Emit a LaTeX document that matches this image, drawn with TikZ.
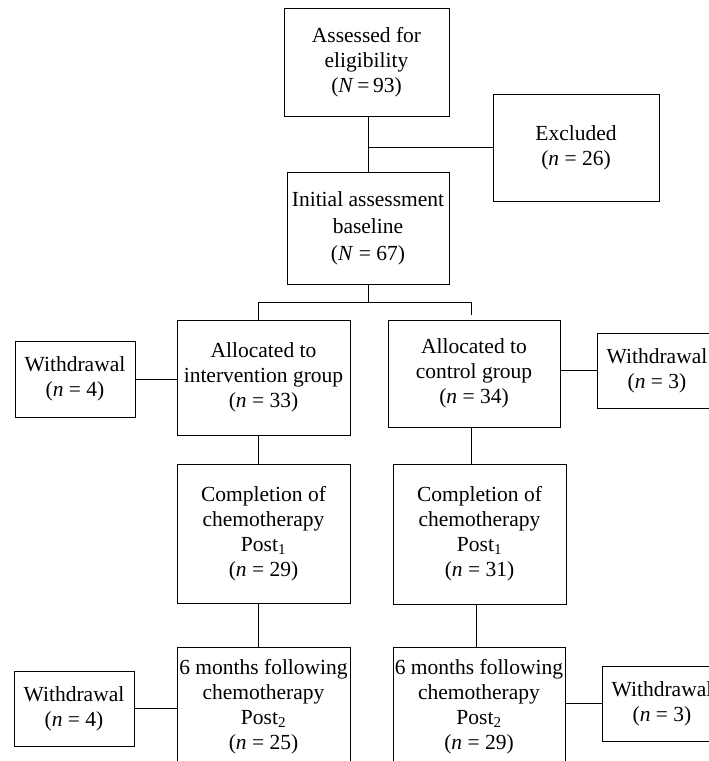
\documentclass[tikz,border=0pt]{standalone}
\usepackage{fontspec}
\setmainfont{Liberation Serif}
\begin{document}
\begin{tikzpicture}[x=1pt,y=-1pt,
  box/.style={draw,line width=0.9pt,inner sep=0pt,align=center,
    font=\fontsize{21.5}{25}\selectfont},
  conn/.style={line width=0.9pt}]
\useasboundingbox (0,0) rectangle (709,761);
\clip (0,0) rectangle (709,761);
\node[box,minimum width=165pt,minimum height=108pt] (A) at (366.5,62) {Assessed for\\eligibility\\(\textit{N}\,=\,93)};
\node[box,minimum width=166pt,minimum height=107pt] (E) at (576,147.5) {Excluded\\(\textit{n}~=~26)};
\node[box,minimum width=162pt,minimum height=112pt,font=\fontsize{21.5}{27}\selectfont] (I) at (368,228) {Initial assessment\\baseline\\(\textit{N}~=~67)};
\node[box,minimum width=173pt,minimum height=115pt] (G1) at (263.5,377.5) {Allocated to\\intervention group\\(\textit{n}~=~33)};
\node[box,minimum width=172pt,minimum height=107pt] (G2) at (474,373.5) {Allocated to\\control group\\(\textit{n}~=~34)};
\node[box,minimum width=120pt,minimum height=76pt] (WL1) at (75,379) {Withdrawal\\(\textit{n}~=~4)};
\node[box,minimum width=120pt,minimum height=75pt] (WR1) at (657,370.5) {Withdrawal\\(\textit{n}~=~3)};
\node[box,minimum width=173pt,minimum height=139pt] (C1) at (263.5,533.5) {Completion of\\chemotherapy\\Post\textsubscript{1}\\(\textit{n}~=~29)};
\node[box,minimum width=173pt,minimum height=140pt] (C2) at (479.5,534) {Completion of\\chemotherapy\\Post\textsubscript{1}\\(\textit{n}~=~31)};
\node[box,minimum width=173pt,minimum height=120pt] (P1) at (263.5,707) {6 months following\\chemotherapy\\Post\textsubscript{2}\\(\textit{n}~=~25)};
\node[box,minimum width=172pt,minimum height=120pt] (P2) at (479,707) {6 months following\\chemotherapy\\Post\textsubscript{2}\\(\textit{n}~=~29)};
\node[box,minimum width=120pt,minimum height=75pt] (WL2) at (74,708.5) {Withdrawal\\(\textit{n}~=~4)};
\node[box,minimum width=120pt,minimum height=75pt] (WR2) at (662,703.5) {Withdrawal\\(\textit{n}~=~3)};
\coordinate (xA) at (368,0);
\coordinate (xL) at (258,0);
\coordinate (xR) at (471,0);
\coordinate (xR2) at (476,0);
\coordinate (split) at (368,302);
\coordinate (tickend) at (471,315);
% connectors
\draw[conn] (A.south -| xA) -- (I.north -| xA);
\draw[conn] (E.west -| xA) -- (E.west);
\draw[conn] (I.south -| xA) -- (split);
\draw[conn] (G1.north -| xL) -- (split -| xL) -- (split -| xR) -- (tickend);
\draw[conn] (WL1.east) -- (WL1.east -| G1.west);
\draw[conn] (WR1.west -| G2.east) -- (WR1.west);
\draw[conn] (G1.south -| xL) -- (C1.north -| xL);
\draw[conn] (G2.south -| xR) -- (C2.north -| xR);
\draw[conn] (C1.south -| xL) -- (P1.north -| xL);
\draw[conn] (C2.south -| xR2) -- (P2.north -| xR2);
\draw[conn] (WL2.east) -- (WL2.east -| P1.west);
\draw[conn] (WR2.west -| P2.east) -- (WR2.west);
\end{tikzpicture}
\end{document}
